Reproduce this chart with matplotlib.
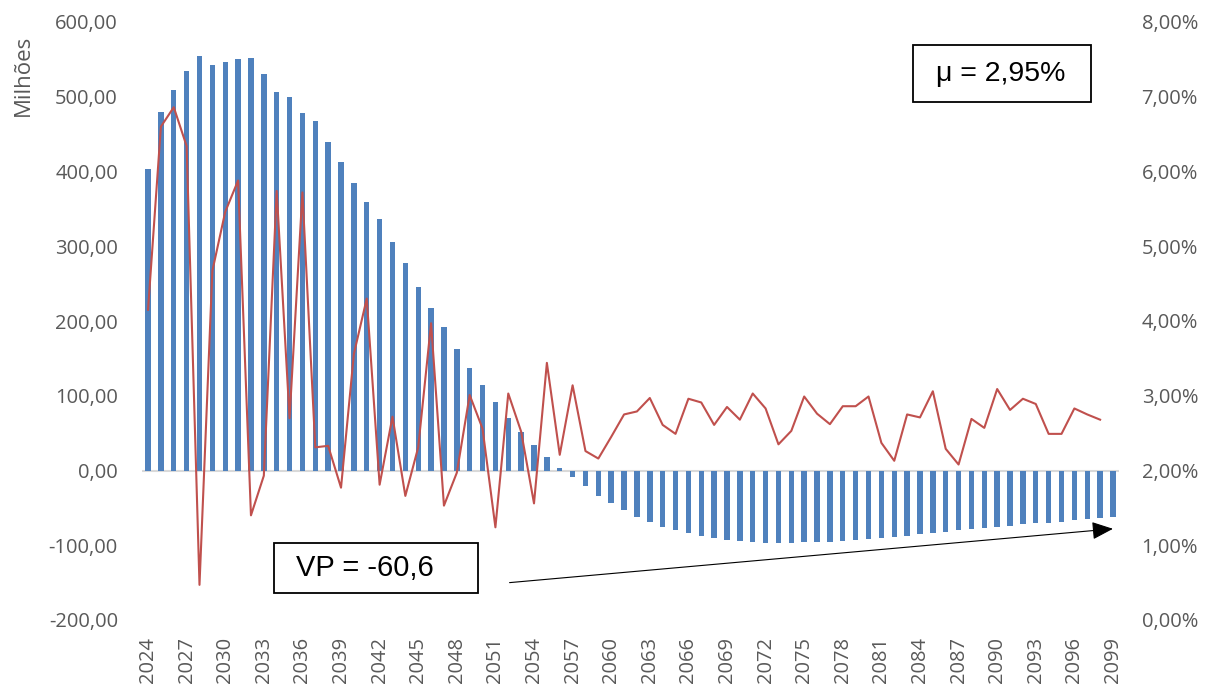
import matplotlib
matplotlib.use("Agg")
import matplotlib.pyplot as plt
import numpy as np
from matplotlib.patches import Rectangle
from matplotlib.ticker import FuncFormatter

years = list(range(2024, 2100))
fluxo = [403, 479, 509, 535, 555, 542, 546, 550, 552, 530,
         507, 500, 478, 467, 440, 413, 384, 359, 336, 306,
         277, 245, 217, 192, 163, 137.5, 114, 92, 70, 52,
         34, 18, 4, -9, -20.5, -34, -44, -53.5, -61.6, -69,
         -75, -80, -83.5, -88, -90.6, -93, -94.6, -96, -96.8, -96.8,
         -96.8, -96, -96, -95, -93.7, -92.8, -92, -90, -88.5, -87,
         -85, -83.5, -82, -80, -78.5, -76.7, -75, -73.6, -71.8, -70.5,
         -69.6, -68.3, -66.5, -64.7, -63.8, -62]
taxa = [4.15, 6.60, 6.86, 6.34, 0.47, 4.67, 5.46, 5.88, 1.40, 1.93,
        5.74, 2.70, 5.72, 2.31, 2.33, 1.77, 3.56, 4.30, 1.81, 2.72,
        1.66, 2.31, 3.97, 1.53, 1.97, 3.01, 2.56, 1.24, 3.03, 2.52,
        1.56, 3.44, 2.21, 3.14, 2.26, 2.16, 2.45, 2.75, 2.79, 2.97,
        2.61, 2.49, 2.96, 2.91, 2.61, 2.85, 2.68, 3.03, 2.83, 2.35,
        2.53, 2.99, 2.76, 2.62, 2.86, 2.86, 2.99, 2.37, 2.13, 2.75,
        2.71, 3.06, 2.29, 2.08, 2.69, 2.57, 3.09, 2.81, 2.96, 2.89,
        2.49, 2.49, 2.83, 2.75, 2.68]
media_txt = "μ = 2,95%"
vp_txt = "VP = -60,6"
y_label = "Milhões"

W, H = 1211, 687
fig = plt.figure(figsize=(W / 100, H / 100), dpi=100)
ax = fig.add_axes([141.6 / W, 1 - 620 / H, (1119.4 - 141.6) / W, (620 - 22) / H])
ax2 = ax.twinx()

tick_font = "Open Sans"
tick_color = "#595959"
fs = 14.5

x = np.arange(len(years))
ax.bar(x, fluxo, width=0.42, color="#4F81BD", zorder=2)
ax.axhline(0, color="#D9D9D9", lw=1.5, zorder=1)
ax.set_xlim(-0.5, len(years) - 0.5)
ax.set_ylim(-200, 600)
ax.set_yticks(np.arange(-200, 601, 100))
ax.yaxis.set_major_formatter(FuncFormatter(lambda v, p: f"{v:.2f}".replace(".", ",")))
ax.set_xticks(x[::3])
ax.set_xticklabels([str(y) for y in years[::3]], rotation=90)

xl = np.arange(len(taxa))
ax2.plot(xl, taxa, color="#C0504D", lw=1.5, zorder=3)
ax2.set_ylim(0, 8)
ax2.set_yticks(np.arange(0, 9, 1))
ax2.yaxis.set_major_formatter(FuncFormatter(lambda v, p: f"{v:.2f}%".replace(".", ",")))

for a in (ax, ax2):
    for s in a.spines.values():
        s.set_visible(False)
    a.tick_params(length=0, labelsize=fs, colors=tick_color)
    for lab in a.get_xticklabels() + a.get_yticklabels():
        lab.set_fontfamily(tick_font)
ax.tick_params(axis="y", pad=17)
ax.tick_params(axis="x", pad=12)
ax2.tick_params(axis="y", pad=16)

fig.text(23 / W, 1 - 75 / H, y_label, rotation=90, ha="center", va="center",
         fontsize=16, color=tick_color, family=tick_font)

# mu box
fig.patches.append(Rectangle((913 / W, 1 - 102 / H), 178 / W, 57 / H, transform=fig.transFigure,
                             fill=True, facecolor="white", edgecolor="black", lw=1.3, zorder=5))
fig.text(1001 / W, 1 - 74 / H, media_txt, ha="center", va="center", fontsize=20.5,
         family="Liberation Sans", color="black", zorder=6)

# VP box
fig.patches.append(Rectangle((274 / W, 1 - 593 / H), 204 / W, 50 / H, transform=fig.transFigure,
                             fill=True, facecolor="white", edgecolor="black", lw=1.3, zorder=5))
fig.text(365 / W, 1 - 568 / H, vp_txt, ha="center", va="center", fontsize=21,
         family="Liberation Sans", color="black", zorder=6)

# arrow
ax2.annotate("", xy=(75, 1.22), xytext=(28.1, 0.50), xycoords="data", textcoords="data",
             arrowprops=dict(arrowstyle="-|>,head_length=1.3,head_width=0.55", color="black",
                             lw=0.8, shrinkA=0, shrinkB=0), annotation_clip=False)

fig.savefig("out.png", dpi=100)
